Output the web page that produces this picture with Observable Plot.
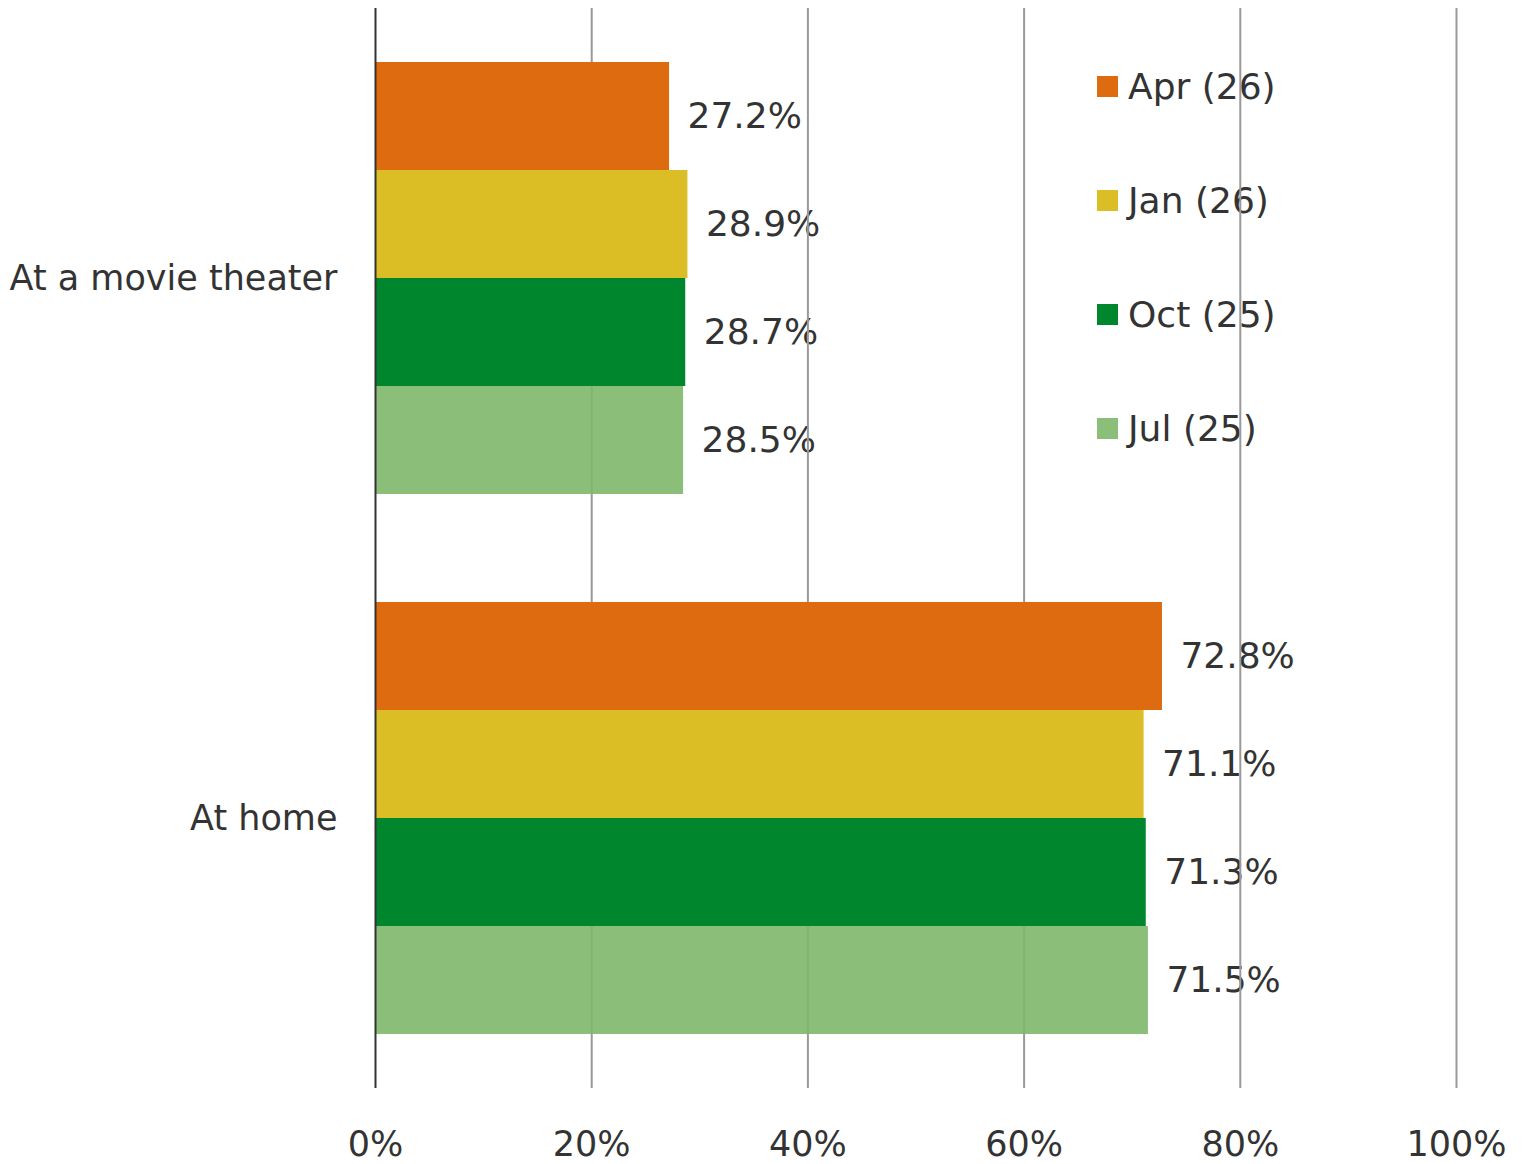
<!DOCTYPE html>
<html>
<head>
<meta charset="utf-8">
<script src="https://cdn.jsdelivr.net/npm/d3@7"></script>
<script src="https://cdn.jsdelivr.net/npm/@observablehq/plot@0.6"></script>
<style>
  html, body { margin: 0; padding: 0; background: #fff; }
  #wrap { position: relative; width: 1526px; height: 1164px; font-family: "DejaVu Sans", Verdana, sans-serif; }
  #wrap svg { position: relative; z-index: 1; }
  #legend { position: absolute; left: 1097px; top: 62px; z-index: 0; }
  .item { display: flex; align-items: center; height: 48px; margin-bottom: 66px; font-size: 36px; color: #333; }
  .sw { width: 21px; height: 21px; margin-right: 10px; }
</style>
</head>
<body>
<div id="wrap"><div id="legend"></div></div>
<script>
const categories = ["At a movie theater", "At home"];
const series = ["Apr (26)", "Jan (26)", "Oct (25)", "Jul (25)"];
const colors = ["#DE6B10", "#DBBE25", "#00872D", "#7EB76A"];
const legendColors = ["#DE6B10", "#DBBE25", "#00872D", "#8BBE79"];
const movieValues = [27.2, 28.9, 28.7, 28.5];
const homeValues = [72.8, 71.1, 71.3, 71.5];
const xTicks = [0, 20, 40, 60, 80, 100];

const data = [];
series.forEach((s, i) => {
  data.push({category: categories[0], series: s, value: movieValues[i]});
  data.push({category: categories[1], series: s, value: homeValues[i]});
});

const chart = Plot.plot({
  width: 1526,
  height: 1164,
  marginLeft: 375,
  marginRight: 70,
  marginTop: 8,
  marginBottom: 76,
  style: {fontFamily: "DejaVu Sans, Verdana, sans-serif", fontSize: "35px", color: "#333", background: "transparent"},
  facet: {data, y: "category", label: null},
  fy: {domain: categories, paddingInner: 0.2, paddingOuter: 0.1, axis: "left", tickSize: 0, tickPadding: 38, label: null},
  y: {domain: series, padding: 0, axis: null},
  x: {domain: [0, 100], ticks: xTicks, tickFormat: d => d + "%", tickSize: 0, tickPadding: 97, label: null, fontSize: 36},
  color: {domain: series, range: colors},
  marks: [
    Plot.text(data, {x: "value", y: "series", text: d => d.value.toFixed(1) + "%", textAnchor: "start", dx: 18, fill: "#333", fontSize: 36}),
    Plot.ruleX(xTicks.filter(d => d > 0), {stroke: "#999", strokeWidth: 2, insetTop: -54, insetBottom: -54}),
    Plot.barX(data, {x: "value", y: "series", fill: "series", fillOpacity: d => d.series === series[3] ? 0.9 : 1}),
    Plot.ruleX([0], {stroke: "#333", strokeWidth: 2, insetTop: -54, insetBottom: -54})
  ]
});
document.getElementById("wrap").prepend(chart);

const legend = document.getElementById("legend");
series.forEach((s, i) => {
  const item = document.createElement("div");
  item.className = "item";
  const sw = document.createElement("div");
  sw.className = "sw";
  sw.style.background = legendColors[i];
  const label = document.createElement("span");
  label.textContent = s;
  item.appendChild(sw);
  item.appendChild(label);
  legend.appendChild(item);
});
</script>
</body>
</html>
